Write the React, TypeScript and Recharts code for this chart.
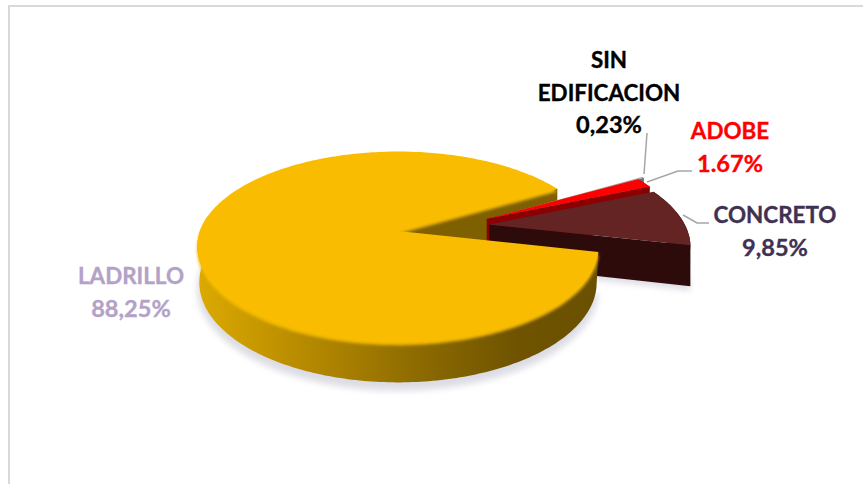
import React from "react";
import { PieChart, Pie } from "recharts";

const categories = ["LADRILLO", "CONCRETO", "ADOBE", "SIN EDIFICACION"];
const shares = [88.25, 9.85, 1.67, 0.23];
const shareLabels = ["88,25%", "9,85%", "1.67%", "0,23%"];

const rows = categories.map((name, i) => ({ name, value: shares[i], text: shareLabels[i] }));

const WIDTH = 863;
const HEIGHT = 484;

// tilted disc: vertical squash and how much nearer points grow
const SQUASH = 0.467;
const PERSPECTIVE = 0.164;

const FONT = "Lato, Carlito, sans-serif";

// how each slice looks and how far it is pulled out of the pie (in radii)
const sliceStyles: Record<string, any> = {
  LADRILLO: { top: "#fabc00", wall: "url(#goldWall)", side: "#7f6000", dx: 0, dy: 0, depth: 35 },
  CONCRETO: { top: "#642424", wall: "#2e0b0b", side: "#2e0b0b", dx: 0.465, dy: 0.07, depth: 40 },
  ADOBE: { top: "#ff0000", wall: "#8b0000", side: "#8b0000", dx: 0.458, dy: 0.135, depth: 40 },
  "SIN EDIFICACION": { top: "#a5a5a5", wall: "#6e6e6e", side: "#6e6e6e", dx: 0.493, dy: 0.15, depth: 40 },
};

const labelStyles: Record<string, any> = {
  LADRILLO: { x: 131, y: 284, color: "#b3a2c7", leader: null },
  CONCRETO: { x: 775, y: 223, color: "#403152", leader: "M709 223 L697 223 L683 215" },
  ADOBE: { x: 730, y: 139, color: "#ff0000", leader: "M692 171 L678 171 L647 182" },
  "SIN EDIFICACION": { x: 609, y: 68, color: "#000000", leader: "M647 133 L644 174" },
};

function project(s: any, a: number, b: number, drop = 0, shrink = 1) {
  const w = 1 + PERSPECTIVE * b;
  const R = s.outerRadius;
  return {
    x: s.cx + (R * a * shrink) / w,
    y: s.cy - (R * SQUASH * b * shrink) / w + drop / w,
  };
}

function rimPoints(s: any, style: any, from: number, to: number, drop = 0, shrink = 1) {
  const pts = [];
  const steps = Math.max(2, Math.ceil(Math.abs(to - from)));
  for (let i = 0; i <= steps; i++) {
    const t = ((from + ((to - from) * i) / steps) * Math.PI) / 180;
    pts.push(project(s, style.dx + Math.cos(t), style.dy + Math.sin(t), drop, shrink));
  }
  return pts;
}

function toPath(pts: { x: number; y: number }[]) {
  return pts.map((p, i) => `${i ? "L" : "M"}${p.x.toFixed(1)} ${p.y.toFixed(1)}`).join(" ") + " Z";
}

function topFace(s: any, style: any, drop = 0) {
  return toPath([project(s, style.dx, style.dy, drop), ...rimPoints(s, style, s.startAngle, s.endAngle, drop)]);
}

// only the part of the rim that faces the viewer needs a wall
function outerWall(s: any, style: any) {
  const from = Math.max(s.startAngle, 170);
  const top = rimPoints(s, style, from, s.endAngle);
  const bottom = rimPoints(s, style, from, s.endAngle, style.depth, 0.99);
  return toPath([...top, ...bottom.reverse()]);
}

// short slices sit on the far side of the rim, so they keep their whole wall
function fullWall(s: any, style: any) {
  const top = rimPoints(s, style, s.startAngle, s.endAngle);
  const bottom = rimPoints(s, style, s.startAngle, s.endAngle, style.depth, 0.99);
  return toPath([...top, ...bottom.reverse()]);
}

// cut face along the slice's first radius
function startWall(s: any, style: any) {
  const t = (s.startAngle * Math.PI) / 180;
  const a = style.dx + Math.cos(t);
  const b = style.dy + Math.sin(t);
  return toPath([
    project(s, style.dx, style.dy),
    project(s, a, b),
    project(s, a, b, style.depth),
    project(s, style.dx, style.dy, style.depth),
  ]);
}

function SliceBody({ s, style }: any) {
  return (
    <g>
      <path d={startWall(s, style)} fill={style.side} />
      <path d={fullWall(s, style)} fill={style.wall} />
      <path d={topFace(s, style)} fill={style.top} />
    </g>
  );
}

// the pie is painted back to front, so each layer only draws some of its slices
const layerShape = (layer: number) => (s: any) => {
  const style = sliceStyles[s.name];
  if (layer === 0) {
    if (s.name === "LADRILLO") {
      return (
        <g>
          <path d={topFace(s, style, style.depth + 6)} fill="#dcdce4" filter="url(#softShadow)" />
          <path d={startWall(s, style)} fill={style.side} />
        </g>
      );
    }
    if (s.name === "CONCRETO") {
      return <path d={topFace(s, style, style.depth + 4)} fill="#dcdce4" filter="url(#softShadow)" />;
    }
    if (s.name === "SIN EDIFICACION") return <SliceBody s={s} style={style} />;
    return <g />;
  }
  if (layer === 1) return s.name === "ADOBE" ? <SliceBody s={s} style={style} /> : <g />;
  if (layer === 2) return s.name === "CONCRETO" ? <SliceBody s={s} style={style} /> : <g />;
  if (s.name !== "LADRILLO") return <g />;
  return (
    <g>
      <path d={outerWall(s, style)} fill={style.wall} />
      <path d={topFace(s, style, 3)} fill="#f5bb00" filter="url(#softEdge)" />
      <path d={topFace(s, style)} fill={style.top} />
    </g>
  );
};

function renderLabel(props: any) {
  const look = labelStyles[props.name];
  const lines = [...props.name.split(" "), props.payload.text];
  return (
    <g>
      {look.leader && <path d={look.leader} fill="none" stroke="#a6a6a6" strokeWidth={1.5} />}
      <text
        x={look.x}
        y={look.y}
        textAnchor="middle"
        fontFamily={FONT}
        fontWeight={700}
        fontSize={22.4}
        fill={look.color}
        stroke={look.color}
        strokeWidth={0.35}
      >
        {lines.map((line: string, i: number) => (
          <tspan key={line} x={look.x} dy={i ? 32.5 : 0} fontSize={i === lines.length - 1 ? 23.6 : 22.4}>
            {line}
          </tspan>
        ))}
      </text>
    </g>
  );
}

const pieProps = {
  data: rows,
  dataKey: "value",
  nameKey: "name",
  cx: 398,
  cy: 231,
  innerRadius: 0,
  outerRadius: 198,
  startAngle: 29.6,
  endAngle: 389.6,
  stroke: "none",
  isAnimationActive: false,
};

export default function App() {
  return (
    <div
      style={{
        position: "absolute",
        left: 0,
        top: 0,
        width: WIDTH,
        height: HEIGHT,
        background: "#ffffff",
        overflow: "hidden",
      }}
    >
      <div
        style={{
          position: "absolute",
          left: 8,
          top: 5,
          width: WIDTH,
          height: HEIGHT,
          borderLeft: "2px solid #d9d9d9",
          borderTop: "2px solid #d9d9d9",
        }}
      />
      <div style={{ position: "absolute", left: 0, top: 0 }}>
        <PieChart width={WIDTH} height={HEIGHT} margin={{ top: 0, right: 0, bottom: 0, left: 0 }}>
          <defs>
            <linearGradient id="goldWall" gradientUnits="userSpaceOnUse" x1="197" y1="0" x2="597" y2="0">
              <stop offset="0" stopColor="#dcaa00" />
              <stop offset="0.25" stopColor="#b98c00" />
              <stop offset="0.55" stopColor="#8d6b00" />
              <stop offset="0.8" stopColor="#6f5300" />
              <stop offset="1" stopColor="#6a5000" />
            </linearGradient>
            <filter id="softShadow" x="-10%" y="-10%" width="120%" height="130%">
              <feGaussianBlur stdDeviation="3" />
            </filter>
            <filter id="softEdge" x="-5%" y="-5%" width="110%" height="115%">
              <feGaussianBlur stdDeviation="1.6" />
            </filter>
          </defs>
          <Pie {...pieProps} shape={layerShape(0)} />
          <Pie {...pieProps} shape={layerShape(1)} />
          <Pie {...pieProps} shape={layerShape(2)} />
          <Pie {...pieProps} shape={layerShape(3)} label={renderLabel} labelLine={false} />
        </PieChart>
      </div>
    </div>
  );
}
